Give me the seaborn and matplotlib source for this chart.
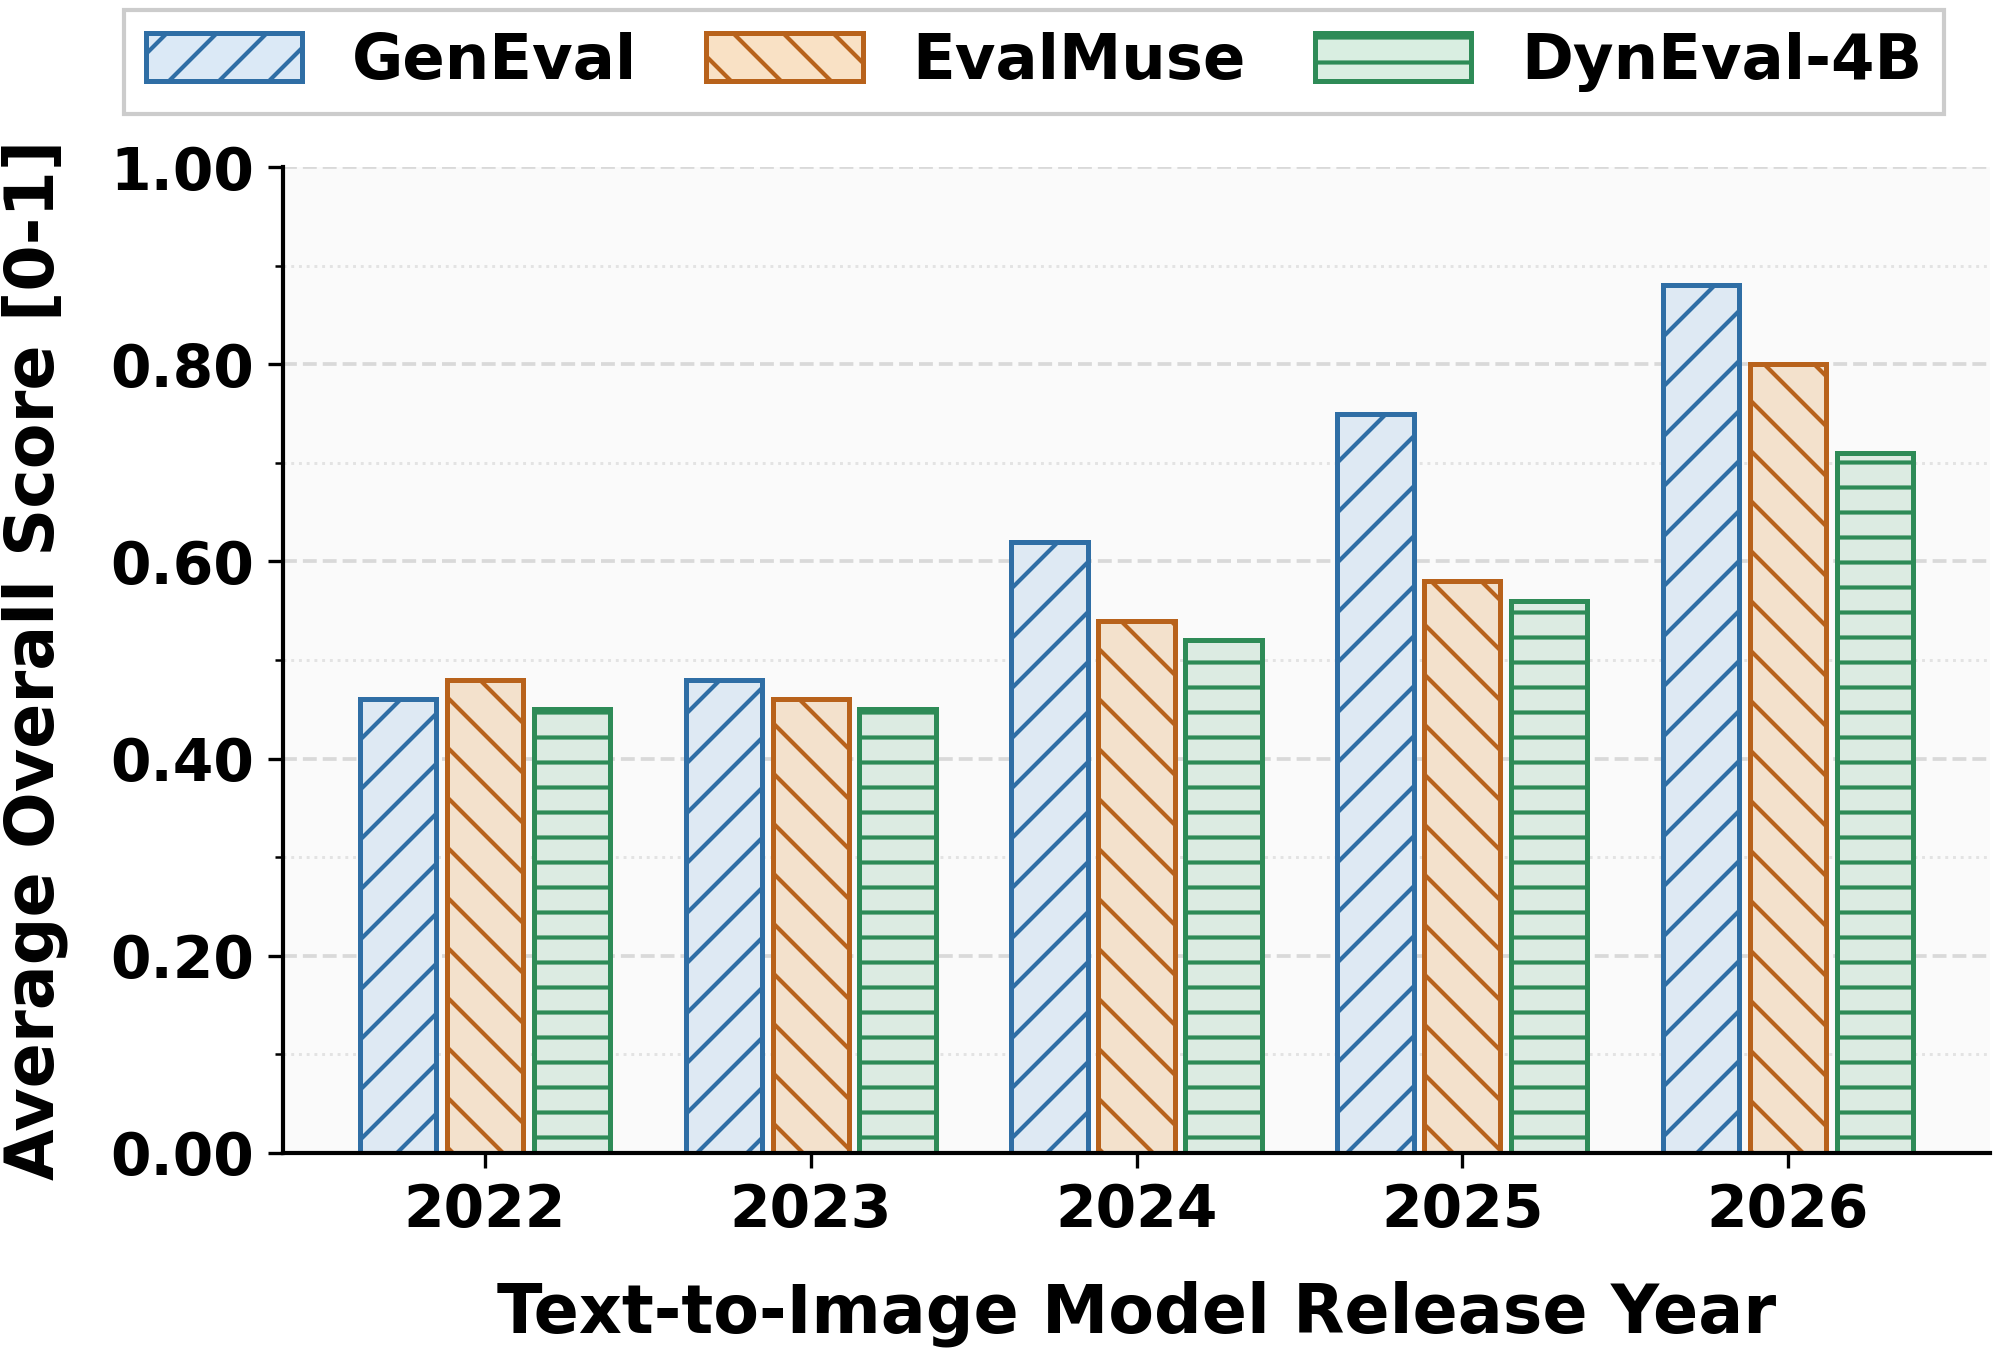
import seaborn as sns
import matplotlib.pyplot as plt
import pandas as pd
from matplotlib.patches import Patch
from matplotlib.ticker import MultipleLocator, FormatStrFormatter

years = ['2022', '2023', '2024', '2025', '2026']
geneval = [0.46, 0.48, 0.62, 0.75, 0.88]
evalmuse = [0.48, 0.46, 0.54, 0.58, 0.80]
dyneval = [0.45, 0.45, 0.52, 0.56, 0.71]
methods = ['GenEval', 'EvalMuse', 'DynEval-4B']

edge_cols = ['#2f6ea5', '#b8621b', '#2e8b57']
fill_cols = ['#dbe9f6', '#f9e1c5', '#d9eee1']
hatches = ['//', '\\\\', '--']

df = pd.DataFrame({
    'year': years * 3,
    'score': geneval + evalmuse + dyneval,
    'method': [m for m in methods for _ in years],
})

sns.set_style('ticks', {'axes.facecolor': '#fafafa'})
plt.rcParams['font.family'] = ['DejaVu Sans']
plt.rcParams['font.weight'] = 'bold'
plt.rcParams['hatch.linewidth'] = 1.0
for k in ['text.color', 'axes.labelcolor', 'xtick.color', 'ytick.color', 'axes.edgecolor']:
    plt.rcParams[k] = 'black'

fig = plt.figure(figsize=(2000 / 300, 1349 / 300), dpi=300)
ax = fig.add_axes([0.1415, 0.1453, 0.995 - 0.1415, 0.8762 - 0.1453])

sns.barplot(data=df, x='year', y='score', hue='method', hue_order=methods,
            palette=fill_cols, width=0.8, gap=0.12, linewidth=1.2,
            legend=False, ax=ax)

for cont, ec, h in zip(ax.containers, edge_cols, hatches):
    for bar in cont:
        bar.set_edgecolor(ec)
        bar.set_hatch(h)
        bar.set_linewidth(1.2)

ax.set_ylim(0, 1.0)
ax.set_xlim(-0.62, 4.62)
ax.yaxis.set_major_locator(MultipleLocator(0.2))
ax.yaxis.set_minor_locator(MultipleLocator(0.1))
ax.yaxis.set_major_formatter(FormatStrFormatter('%.2f'))
ax.set_axisbelow(True)
ax.grid(axis='y', which='major', linestyle='--', color='#d9d9d9', linewidth=0.9)
ax.grid(axis='y', which='minor', linestyle=':', color='#e3e3e3', linewidth=0.7)

sns.despine(ax=ax)
for s in ['left', 'bottom']:
    ax.spines[s].set_linewidth(1.0)

ax.set_xlabel('Text-to-Image Model Release Year', fontsize=16, fontweight='bold', labelpad=10)
ax.set_ylabel('Average Overall Score [0-1]', fontsize=16, fontweight='bold', labelpad=10)
ax.tick_params(axis='both', labelsize=14, colors='black')
for lbl in ax.get_xticklabels() + ax.get_yticklabels():
    lbl.set_fontweight('bold')

handles = [Patch(facecolor=fc, edgecolor=ec, hatch=h, linewidth=1.2, label=m)
           for fc, ec, h, m in zip(fill_cols, edge_cols, hatches, methods)]
fig.legend(handles=handles, loc='center', bbox_to_anchor=(0.517, 0.954), ncol=3,
           prop={'size': 15, 'weight': 'bold'}, frameon=True, fancybox=False,
           facecolor='white', edgecolor='#cccccc', framealpha=1.0,
           handlelength=2.5, handleheight=0.8,
           handletextpad=0.8, columnspacing=1.1, borderpad=0.35, borderaxespad=0.2)

fig.savefig('out.png', dpi=300)
